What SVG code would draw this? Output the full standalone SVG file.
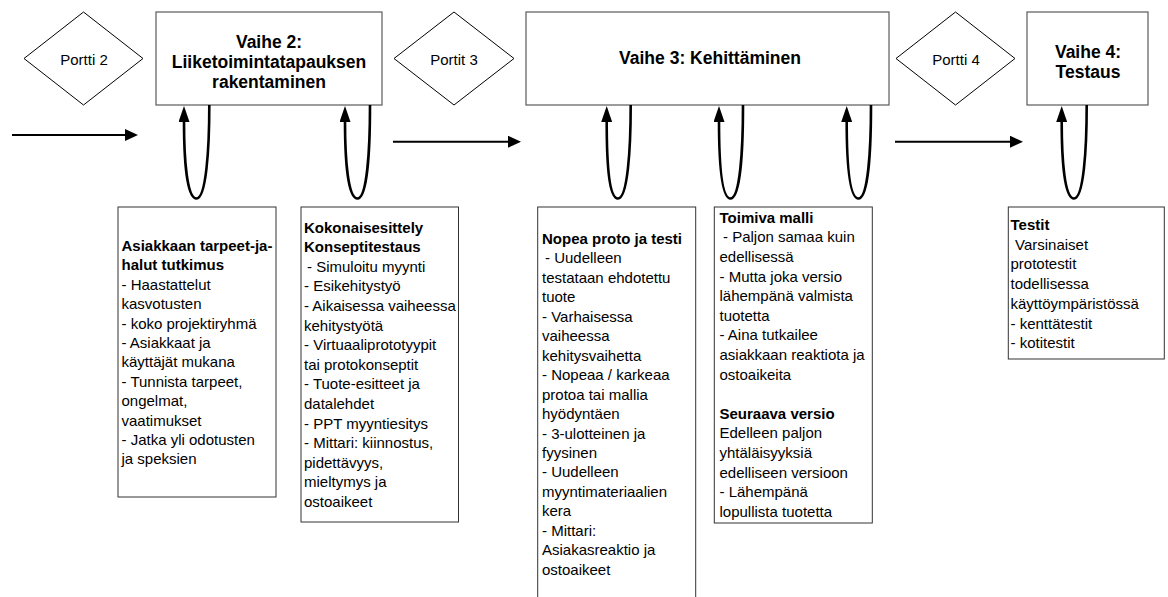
<svg xmlns="http://www.w3.org/2000/svg" width="1168" height="597" viewBox="0 0 1168 597">
<style>
text{font-family:"Liberation Sans",Arial,sans-serif;fill:#000}
.t{font-size:17.5px;font-weight:bold;text-anchor:middle}
.g{font-size:15px;text-anchor:middle}
.b{font-size:15px}
.bb{font-weight:bold}
.stage{fill:#fff;stroke:#5a5a5a;stroke-width:1.2}
.gate{fill:#fff;stroke:#000;stroke-width:1}
.note{fill:#fff;stroke:#333;stroke-width:1}
.flow{fill:none;stroke:#000;stroke-width:2}
.loop{fill:none;stroke:#000;stroke-width:2.6}
</style>
<defs>
<marker id="ah" markerUnits="userSpaceOnUse" markerWidth="13" markerHeight="12" refX="1" refY="6" orient="auto">
<path d="M0,0 L13,6 L0,12 z" fill="#000"/>
</marker>
<marker id="lh" markerUnits="userSpaceOnUse" markerWidth="16" markerHeight="11" refX="1" refY="5.5" orient="auto">
<path d="M0,0 L16,5.5 L0,11 z" fill="#000"/>
</marker>
</defs>

<g id="portti2"><polygon class="gate" points="24,58.5 83.5,12 143,58.5 83.5,105"/><text class="g" x="84" y="65">Portti 2</text></g>
<g id="vaihe2"><rect class="stage" x="156" y="12" width="226" height="93"/>
<text class="t" x="269" y="48">Vaihe 2:</text><text class="t" x="269" y="68">Liiketoimintatapauksen</text><text class="t" x="269" y="88">rakentaminen</text></g>
<g id="portti3"><polygon class="gate" points="394,58.5 454,12 514,58.5 454,105"/><text class="g" x="454" y="65">Portit 3</text></g>
<g id="vaihe3"><rect class="stage" x="526" y="12" width="363" height="93"/>
<text class="t" x="710" y="64">Vaihe 3: Kehittäminen</text></g>
<g id="portti4"><polygon class="gate" points="896,58.5 955.5,12 1015,58.5 955.5,105"/><text class="g" x="956" y="65">Portti 4</text></g>
<g id="vaihe4"><rect class="stage" x="1027" y="12" width="121" height="93"/>
<text class="t" x="1088" y="58">Vaihe 4:</text><text class="t" x="1088" y="78">Testaus</text></g>

<g id="connectors">
<line class="flow" x1="12" y1="135" x2="126" y2="135" marker-end="url(#ah)"/>
<line class="flow" x1="393" y1="141.7" x2="509" y2="141.7" marker-end="url(#ah)"/>
<line class="flow" x1="895" y1="141.7" x2="1011" y2="141.7" marker-end="url(#ah)"/>
<path class="loop" d="M209.3,105 C209.3,150 206,198.5 196.5,198.5 C187,198.5 184,160 184,121" marker-end="url(#lh)"/>
<path class="loop" d="M370,105 C370,150 367,198.5 357.5,198.5 C348,198.5 345,160 345,121" marker-end="url(#lh)"/>
<path class="loop" d="M630.7,105 C630.7,150 627.5,198.5 618,198.5 C608.5,198.5 606.7,160 606.7,121" marker-end="url(#lh)"/>
<path class="loop" d="M743,105 C743,150 740,198.5 730.5,198.5 C721,198.5 719,160 719,121" marker-end="url(#lh)"/>
<path class="loop" d="M871,105 C871,150 868,198.5 858.5,198.5 C849,198.5 846.7,160 846.7,121" marker-end="url(#lh)"/>
<path class="loop" d="M1086.7,105 C1086.7,150 1083.5,198.5 1074,198.5 C1064.5,198.5 1061.7,160 1061.7,121" marker-end="url(#lh)"/>
</g>

<g id="note-asiakas"><rect class="note" x="118" y="207" width="158" height="290"/>
<text class="b">
<tspan class="bb" x="121.5" y="251">Asiakkaan tarpeet-ja-</tspan>
<tspan class="bb" x="121.5" y="270.4">halut tutkimus</tspan>
<tspan x="121.5" y="289.8">- Haastattelut</tspan>
<tspan x="121.5" y="309.2">kasvotusten</tspan>
<tspan x="121.5" y="328.6">- koko projektiryhmä</tspan>
<tspan x="121.5" y="348">- Asiakkaat ja</tspan>
<tspan x="121.5" y="367.4">käyttäjät mukana</tspan>
<tspan x="121.5" y="386.8">- Tunnista tarpeet,</tspan>
<tspan x="121.5" y="406.2">ongelmat,</tspan>
<tspan x="121.5" y="425.6">vaatimukset</tspan>
<tspan x="121.5" y="445">- Jatka yli odotusten</tspan>
<tspan x="121.5" y="464.4">ja speksien</tspan>
</text></g>

<g id="note-konsepti"><rect class="note" x="301" y="207" width="157.5" height="315"/>
<text class="b">
<tspan class="bb" x="304" y="232.5">Kokonaisesittely</tspan>
<tspan class="bb" x="304" y="252.1">Konseptitestaus</tspan>
<tspan x="307" y="271.7">- Simuloitu myynti</tspan>
<tspan x="304" y="291.3">- Esikehitystyö</tspan>
<tspan x="304" y="310.9">- Aikaisessa vaiheessa</tspan>
<tspan x="304" y="330.5">kehitystyötä</tspan>
<tspan x="304" y="350.1">- Virtuaaliprototyypit</tspan>
<tspan x="304" y="369.7">tai protokonseptit</tspan>
<tspan x="304" y="389.3">- Tuote-esitteet ja</tspan>
<tspan x="304" y="408.9">datalehdet</tspan>
<tspan x="304" y="428.5">- PPT myyntiesitys</tspan>
<tspan x="304" y="448.1">- Mittari: kiinnostus,</tspan>
<tspan x="304" y="467.7">pidettävyys,</tspan>
<tspan x="304" y="487.3">mieltymys ja</tspan>
<tspan x="304" y="506.9">ostoaikeet</tspan>
</text></g>

<g id="note-proto"><rect class="note" x="537.7" y="207" width="158" height="400"/>
<text class="b">
<tspan class="bb" x="542" y="244">Nopea proto ja testi</tspan>
<tspan x="545" y="263.45">- Uudelleen</tspan>
<tspan x="542" y="282.9">testataan ehdotettu</tspan>
<tspan x="542" y="302.35">tuote</tspan>
<tspan x="542" y="321.8">- Varhaisessa</tspan>
<tspan x="542" y="341.25">vaiheessa</tspan>
<tspan x="542" y="360.7">kehitysvaihetta</tspan>
<tspan x="542" y="380.15">- Nopeaa / karkeaa</tspan>
<tspan x="542" y="399.6">protoa tai mallia</tspan>
<tspan x="542" y="419.05">hyödyntäen</tspan>
<tspan x="542" y="438.5">- 3-ulotteinen ja</tspan>
<tspan x="542" y="457.95">fyysinen</tspan>
<tspan x="542" y="477.4">- Uudelleen</tspan>
<tspan x="542" y="496.85">myyntimateriaalien</tspan>
<tspan x="542" y="516.3">kera</tspan>
<tspan x="542" y="535.75">- Mittari:</tspan>
<tspan x="542" y="555.2">Asiakasreaktio ja</tspan>
<tspan x="542" y="574.65">ostoaikeet</tspan>
</text></g>

<g id="note-malli"><rect class="note" x="714.3" y="207" width="158" height="316"/>
<text class="b">
<tspan class="bb" x="719.5" y="222.7">Toimiva malli</tspan>
<tspan x="723" y="242.3">- Paljon samaa kuin</tspan>
<tspan x="719.5" y="261.9">edellisessä</tspan>
<tspan x="719.5" y="281.5">- Mutta joka versio</tspan>
<tspan x="719.5" y="301.1">lähempänä valmista</tspan>
<tspan x="719.5" y="320.7">tuotetta</tspan>
<tspan x="719.5" y="340.3">- Aina tutkailee</tspan>
<tspan x="719.5" y="359.9">asiakkaan reaktiota ja</tspan>
<tspan x="719.5" y="379.5">ostoaikeita</tspan>
<tspan class="bb" x="719.5" y="418.7">Seuraava versio</tspan>
<tspan x="719.5" y="438.3">Edelleen paljon</tspan>
<tspan x="719.5" y="457.9">yhtäläisyyksiä</tspan>
<tspan x="719.5" y="477.5">edelliseen versioon</tspan>
<tspan x="719.5" y="497.1">- Lähempänä</tspan>
<tspan x="719.5" y="516.7">lopullista tuotetta</tspan>
</text></g>

<g id="note-testit"><rect class="note" x="1008.3" y="207" width="156" height="152"/>
<text class="b">
<tspan class="bb" x="1010.5" y="230">Testit</tspan>
<tspan x="1015" y="249.7">Varsinaiset</tspan>
<tspan x="1010.5" y="269.4">prototestit</tspan>
<tspan x="1010.5" y="289.1">todellisessa</tspan>
<tspan x="1010.5" y="308.8">käyttöympäristössä</tspan>
<tspan x="1010.5" y="328.5">- kenttätestit</tspan>
<tspan x="1010.5" y="348.2">- kotitestit</tspan>
</text></g>
</svg>
